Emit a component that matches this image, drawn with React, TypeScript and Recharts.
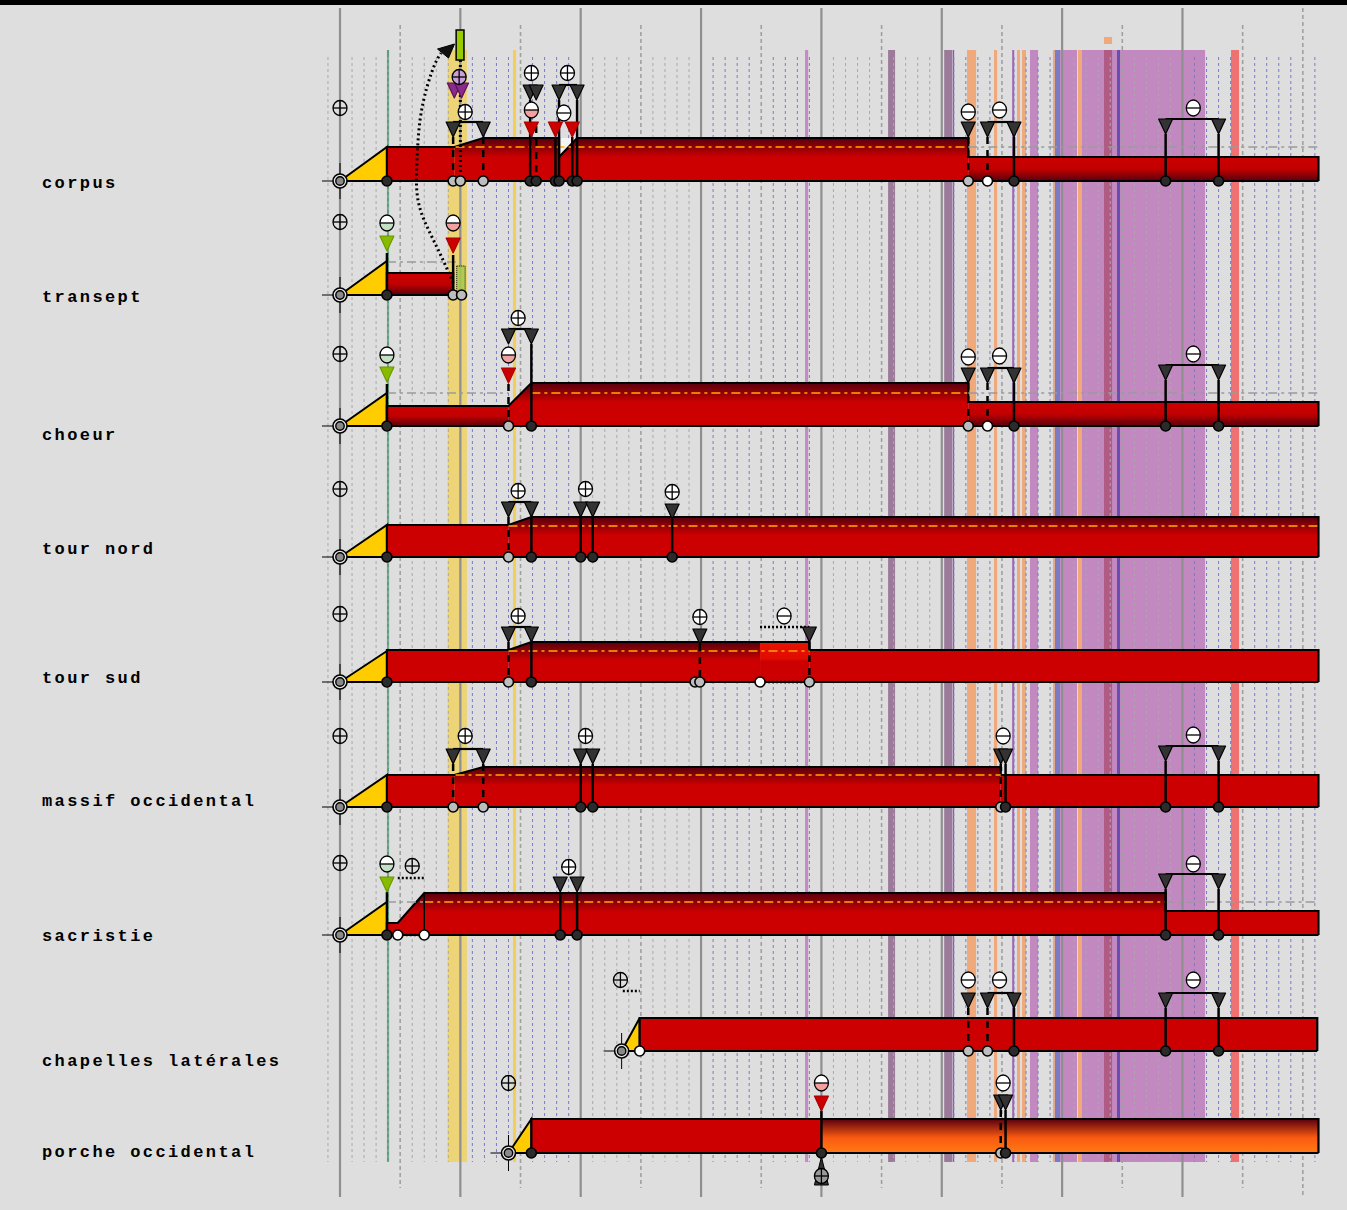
import React from "react";
import {
  ComposedChart,
  XAxis,
  YAxis,
  Area,
  Line,
  Scatter,
  ReferenceLine,
  ReferenceArea,
} from "recharts";

const W = 1347;
const H = 1210;
const X_DOMAIN: [number, number] = [817.5, 1936.7];
const Y_DOMAIN: [number, number] = [0, 1210];

// ---------- rows ----------
const rowNames = [
  "corpus",
  "transept",
  "choeur",
  "tour nord",
  "tour sud",
  "massif occidental",
  "sacristie",
  "chapelles latérales",
  "porche occidental",
];
const rowBase = [181, 295, 426, 557, 682, 807, 935, 1051, 1153];
const labelDy = [7, 7, 14, -3, 1, -1, 6, 15, 4];
const labelYear = 852.4;
const rowStart = [1100, 1100, 1100, 1100, 1100, 1100, 1100, 1334, 1240];

// yellow ramps: [row, from, to, height]
const ramps: [number, number, number, number][] = [
  [0, 1100, 1139, 34],
  [1, 1100, 1139, 34],
  [2, 1100, 1139, 33],
  [3, 1100, 1139, 32],
  [4, 1100, 1139, 31],
  [5, 1100, 1139, 32],
  [6, 1100, 1139, 33],
  [7, 1334, 1349, 33],
  [8, 1240, 1259, 34],
];

type Seg = [string, [number, number][]];
const corpusBars: Seg[] = [
  ["red", [[1139, 0], [1139, 34], [1195, 34], [1195, 0]]],
  ["topDark", [[1195, 0], [1195, 34], [1219, 43], [1282, 43], [1282, 24], [1297, 43], [1622, 43], [1622, 0]]],
  ["bottomDark", [[1622, 0], [1622, 24], [1913, 24], [1913, 0]]],
];
const transeptBars: Seg[] = [["bottomDark", [[1139, 0], [1139, 22], [1194, 22], [1194, 0]]]];
const choeurBars: Seg[] = [
  ["bottomDark", [[1139, 0], [1139, 20], [1240, 20], [1240, 0]]],
  ["topDark", [[1240, 0], [1240, 20], [1259, 43], [1622, 43], [1622, 0]]],
  ["bottomDark", [[1622, 0], [1622, 24], [1913, 24], [1913, 0]]],
];
const tourNordBars: Seg[] = [
  ["red", [[1139, 0], [1139, 32], [1240, 32], [1240, 0]]],
  ["topDark", [[1240, 0], [1240, 32], [1259, 40], [1913, 40], [1913, 0]]],
];
const tourSudBars: Seg[] = [
  ["red", [[1139, 0], [1139, 32], [1240, 32], [1240, 0]]],
  ["topDark", [[1240, 0], [1240, 32], [1259, 40], [1449, 40], [1449, 0]]],
  ["bright", [[1449, 0], [1449, 40], [1490, 40], [1490, 0]]],
  ["red", [[1490, 0], [1490, 32], [1913, 32], [1913, 0]]],
];
const massifBars: Seg[] = [
  ["red", [[1139, 0], [1139, 32], [1195, 32], [1195, 0]]],
  ["topDark", [[1195, 0], [1195, 32], [1219, 40], [1649, 40], [1649, 0]]],
  ["red", [[1649, 0], [1649, 32], [1913, 32], [1913, 0]]],
];
const sacristieBars: Seg[] = [
  ["topDark", [[1139, 0], [1139, 12], [1148, 12], [1170, 42], [1786, 42], [1786, 0]]],
  ["red", [[1786, 0], [1786, 24], [1913, 24], [1913, 0]]],
];
const chapellesBars: Seg[] = [["red", [[1349, 0], [1349, 33], [1912, 33], [1912, 0]]]];
const porcheBars: Seg[] = [
  ["red", [[1259, 0], [1259, 34], [1500, 34], [1500, 0]]],
  ["orange", [[1500, 0], [1500, 34], [1913, 34], [1913, 0]]],
];
const rowBars = [corpusBars, transeptBars, choeurBars, tourNordBars, tourSudBars, massifBars, sacristieBars, chapellesBars, porcheBars];
// pale notch in the corpus: [row, from, to, low height, high height]
const notches: [number, number, number, number, number][] = [[0, 1282, 1297, 24, 43]];

// ---------- markers ----------
// [row, year, height above base, variant]
const plusMarks: [number, number, number, string][] = [
  [0, 1100, 73, "n"], [0, 1204, 69, "w"], [0, 1259, 108, "w"], [0, 1289, 108, "w"], [0, 1199, 104, "v"],
  [1, 1100, 73, "n"],
  [2, 1100, 72, "n"], [2, 1248, 108, "w"],
  [3, 1100, 68, "n"], [3, 1248, 66, "w"], [3, 1304, 68, "w"], [3, 1376, 65, "w"],
  [4, 1100, 68, "n"], [4, 1248, 66, "w"], [4, 1399, 65, "w"],
  [5, 1100, 71, "n"], [5, 1204, 71, "w"], [5, 1304, 71, "w"],
  [6, 1100, 72, "n"], [6, 1160, 69, "n"], [6, 1290, 68, "w"],
  [7, 1333, 71, "n"],
  [8, 1240, 70, "n"], [8, 1500, -23, "g"],
];
const minusMarks: [number, number, number, string][] = [
  [0, 1259, 71, "p"], [0, 1286, 68, "w"], [0, 1622, 69, "w"], [0, 1648, 71, "w"], [0, 1809, 73, "w"],
  [1, 1139, 72, "g"], [1, 1194, 72, "p"],
  [2, 1139, 71, "g"], [2, 1240, 71, "p"], [2, 1622, 69, "w"], [2, 1648, 70, "w"], [2, 1809, 72, "w"],
  [4, 1469, 66, "w"],
  [5, 1651, 71, "w"], [5, 1809, 72, "w"],
  [6, 1139, 71, "g"], [6, 1809, 71, "w"],
  [7, 1622, 71, "w"], [7, 1648, 71, "w"], [7, 1809, 71, "w"],
  [8, 1500, 70, "p"], [8, 1651, 70, "w"],
];
// triangle: [row, year, height of top, colour]
const triMarks: [number, number, number, string][] = [
  [0, 1194, 59, "k"], [0, 1219, 59, "k"], [0, 1258, 96, "k"], [0, 1263, 96, "k"], [0, 1282, 96, "k"], [0, 1297, 96, "k"],
  [0, 1259, 59, "r"], [0, 1279, 59, "r"], [0, 1293, 59, "r"], [0, 1195, 98, "v"], [0, 1201, 98, "v"],
  [0, 1622, 59, "k"], [0, 1638, 59, "k"], [0, 1660, 59, "k"], [0, 1786, 62, "k"], [0, 1830, 62, "k"],
  [1, 1139, 59, "g"], [1, 1194, 57, "r"],
  [2, 1139, 59, "g"], [2, 1240, 58, "r"], [2, 1240, 97, "k"], [2, 1259, 97, "k"], [2, 1622, 58, "k"], [2, 1638, 58, "k"], [2, 1660, 58, "k"], [2, 1786, 61, "k"], [2, 1830, 61, "k"],
  [3, 1240, 55, "k"], [3, 1259, 55, "k"], [3, 1300, 55, "k"], [3, 1310, 55, "k"], [3, 1376, 53, "k"],
  [4, 1240, 55, "k"], [4, 1259, 55, "k"], [4, 1399, 53, "k"], [4, 1490, 55, "k"],
  [5, 1194, 58, "k"], [5, 1219, 58, "k"], [5, 1300, 58, "k"], [5, 1310, 58, "k"], [5, 1649, 58, "k"], [5, 1653, 58, "k"], [5, 1786, 61, "k"], [5, 1830, 61, "k"],
  [6, 1139, 58, "g"], [6, 1283, 58, "k"], [6, 1297, 58, "k"], [6, 1786, 61, "k"], [6, 1830, 61, "k"],
  [7, 1622, 58, "k"], [7, 1638, 58, "k"], [7, 1660, 58, "k"], [7, 1786, 58, "k"], [7, 1830, 58, "k"],
  [8, 1500, 57, "r"], [8, 1649, 58, "k"], [8, 1653, 58, "k"],
];
// base dots: [row, year, variant]
const dotMarks: [number, number, string][] = [
  [0, 1139, "d"], [0, 1194, "l"], [0, 1200, "l"], [0, 1219, "l"], [0, 1258, "d"], [0, 1263, "d"], [0, 1279, "d"], [0, 1282, "d"], [0, 1293, "d"], [0, 1297, "d"], [0, 1622, "l"], [0, 1638, "w"], [0, 1660, "d"], [0, 1786, "d"], [0, 1830, "d"],
  [1, 1139, "d"], [1, 1194, "l"], [1, 1201, "l"],
  [2, 1139, "d"], [2, 1240, "l"], [2, 1259, "d"], [2, 1622, "l"], [2, 1638, "w"], [2, 1660, "d"], [2, 1786, "d"], [2, 1830, "d"],
  [3, 1139, "d"], [3, 1240, "l"], [3, 1259, "d"], [3, 1300, "d"], [3, 1310, "d"], [3, 1376, "d"],
  [4, 1139, "d"], [4, 1240, "l"], [4, 1259, "d"], [4, 1395, "l"], [4, 1399, "l"], [4, 1449, "w"], [4, 1490, "l"],
  [5, 1139, "d"], [5, 1194, "l"], [5, 1219, "l"], [5, 1300, "d"], [5, 1310, "d"], [5, 1649, "l"], [5, 1653, "d"], [5, 1786, "d"], [5, 1830, "d"],
  [6, 1139, "d"], [6, 1148, "w"], [6, 1170, "w"], [6, 1283, "d"], [6, 1297, "d"], [6, 1786, "d"], [6, 1830, "d"],
  [7, 1349, "w"], [7, 1622, "l"], [7, 1638, "l"], [7, 1660, "d"], [7, 1786, "d"], [7, 1830, "d"],
  [8, 1259, "d"], [8, 1500, "d"], [8, 1649, "l"], [8, 1653, "d"],
];
// stems: [row, year, height of top, style s=solid d=dashed o=dotted t=thin]
const stems: [number, number, number, string][] = [
  [0, 1194, 44, "d"], [0, 1219, 44, "d"], [0, 1200, 121, "o"], [0, 1258, 81, "s"], [0, 1263, 55, "d"], [0, 1279, 44, "s"], [0, 1282, 81, "s"], [0, 1293, 44, "s"], [0, 1297, 81, "s"],
  [0, 1622, 44, "d"], [0, 1638, 44, "d"], [0, 1660, 44, "s"], [0, 1786, 47, "s"], [0, 1830, 47, "s"],
  [1, 1139, 42, "s"], [1, 1194, 40, "s"],
  [2, 1139, 42, "s"], [2, 1240, 42, "d"], [2, 1259, 82, "s"], [2, 1622, 43, "d"], [2, 1638, 43, "d"], [2, 1660, 43, "s"], [2, 1786, 46, "s"], [2, 1830, 46, "s"],
  [3, 1240, 40, "d"], [3, 1259, 40, "s"], [3, 1300, 40, "s"], [3, 1310, 40, "s"], [3, 1376, 38, "s"],
  [4, 1240, 40, "d"], [4, 1259, 40, "s"], [4, 1399, 38, "d"], [4, 1490, 40, "d"],
  [5, 1194, 43, "d"], [5, 1219, 43, "d"], [5, 1300, 43, "s"], [5, 1310, 43, "s"], [5, 1649, 43, "d"], [5, 1653, 43, "s"], [5, 1786, 46, "s"], [5, 1830, 46, "s"],
  [6, 1139, 43, "s"], [6, 1170, 42, "t"], [6, 1283, 43, "s"], [6, 1297, 43, "s"], [6, 1786, 46, "s"], [6, 1830, 46, "s"],
  [7, 1622, 43, "d"], [7, 1638, 43, "d"], [7, 1660, 43, "s"], [7, 1786, 43, "s"], [7, 1830, 43, "s"],
  [8, 1500, 42, "s"], [8, 1649, 43, "d"], [8, 1653, 43, "s"],
];
// horizontal links: [row, from, to, height, style]
const links: [number, number, number, number, string][] = [
  [0, 1194, 1219, 59, "s"], [0, 1282, 1297, 96, "s"], [0, 1638, 1660, 59, "s"], [0, 1786, 1830, 62, "s"],
  [2, 1240, 1259, 97, "s"], [2, 1638, 1660, 58, "s"], [2, 1786, 1830, 61, "s"],
  [3, 1240, 1259, 55, "s"],
  [4, 1240, 1259, 55, "s"], [4, 1449, 1490, 55, "o"], [4, 1449, 1490, 0, "o"],
  [5, 1194, 1219, 58, "s"], [5, 1786, 1830, 61, "s"],
  [6, 1148, 1170, 57, "o"], [6, 1148, 1170, 0, "o"], [6, 1786, 1830, 61, "s"],
  [7, 1335, 1349, 60, "o"], [7, 1638, 1660, 58, "s"], [7, 1786, 1830, 58, "s"],
];
// dash-dot reference levels: [row, from, to, height, colour]
const levels: [number, number, number, number, string][] = [
  [0, 1196, 1622, 34, "y"], [0, 1622, 1913, 34, "g"],
  [1, 1139, 1201, 33, "g"],
  [2, 1139, 1240, 33, "g"], [2, 1259, 1622, 33, "y"], [2, 1622, 1913, 33, "g"],
  [3, 1240, 1913, 31, "y"],
  [4, 1240, 1490, 31, "y"],
  [5, 1196, 1649, 32, "y"],
  [6, 1139, 1170, 33, "g"], [6, 1170, 1786, 33, "y"], [6, 1786, 1913, 33, "g"],
];
// flags: [row, from, to, bottom height, top height, style]
const flags: [number, number, number, number, number, string][] = [
  [0, 1196.5, 1203, 121, 151, "solid"],
  [1, 1197, 1204, 0, 29, "dotted"],
];
// dotted arc (absolute)
const arcPoints = [
  { x: 1194, y: 283 }, { x: 1185.6, y: 260 }, { x: 1174.8, y: 233 }, { x: 1164.8, y: 200 },
  { x: 1164, y: 160 }, { x: 1166.5, y: 120 }, { x: 1172.3, y: 87 }, { x: 1178.9, y: 64 }, { x: 1184, y: 53 },
];
const arrowHead = { x: 1188.5, y: 47 };

// ---------- grid & bands ----------
const majorYears = [1100, 1200, 1300, 1400, 1500, 1600, 1700, 1800];
const majorDashed = [1900];
const halfYears = [1150, 1250, 1350, 1450, 1550, 1650, 1750, 1850];
const greyDecades = [1090, 1110, 1120, 1130, 1140, 1160, 1170, 1180, 1190, 1310, 1320, 1330, 1340, 1360, 1370, 1380, 1390, 1510, 1520, 1530, 1540, 1560, 1570, 1580, 1590, 1710, 1720, 1730, 1740, 1760, 1770, 1780, 1790];
const blueDecades = [1210, 1220, 1230, 1240, 1260, 1270, 1280, 1290, 1410, 1420, 1430, 1440, 1460, 1470, 1480, 1490, 1610, 1620, 1630, 1640, 1660, 1670, 1680, 1690, 1810, 1820, 1830, 1840, 1860, 1870, 1880, 1890, 1910];
const bands: [number, number, string][] = [
  [1139, 1140.8, "#5c9f7c"],
  [1189.5, 1205.5, "#ecd477"],
  [1243.7, 1246.3, "#f3cf58"],
  [1486.4, 1489, "#c48ac6"],
  [1555.4, 1561.2, "#9b7b99"],
  [1602, 1608.5, "#9b7b99"],
  [1609, 1610.3, "#8a5aa8"],
  [1621, 1628.5, "#f0a97a"],
  [1643.4, 1646, "#f0a97a"],
  [1658.5, 1660.2, "#a066b6"],
  [1662.5, 1665, "#f0a97a"],
  [1666.7, 1670, "#f0a97a"],
  [1673.3, 1680, "#c189c0"],
  [1692.4, 1694, "#f0a97a"],
  [1694, 1698.3, "#7b7bc4"],
  [1698.3, 1712.4, "#c189c0"],
  [1713.2, 1716.5, "#f0a97a"],
  [1716.5, 1818.8, "#c189c0"],
  [1734.8, 1741.5, "#b05b84"],
  [1745.6, 1748.1, "#6a4db2"],
  [1840.3, 1847, "#ee7272"],
];
const topTag: [number, number, string] = [1734.8, 1741.5, "#f0a97a"];

// ---------- styles ----------
const TONE: Record<string, string> = {
  red: "#cc0000",
  topDark: "url(#gTopDark)",
  bottomDark: "url(#gBottomDark)",
  bright: "url(#gBright)",
  orange: "url(#gOrange)",
};
const TRI_FILL: Record<string, string> = { k: "#333333", r: "#cc0000", g: "#88bb00", v: "#8a2a8a" };
const TRI_STROKE: Record<string, string> = { k: "#000000", r: "#aa0000", g: "#6a9a00", v: "#5a105a" };
const DOT_FILL: Record<string, string> = { d: "#2b2b2b", l: "#bdbdbd", w: "#ffffff" };
const PLUS_FILL: Record<string, string> = { n: "none", w: "#ffffff", v: "#c8a0d8", g: "#999999" };
const MINUS_TINT: Record<string, string> = { w: "#ffffff", p: "#f2a0a0", g: "#c4e0c4" };

const toArea = (row: number, pts: [number, number][]) =>
  pts.map(([x, h]) => ({ x, r: [rowBase[row], rowBase[row] - h] }));

function outlineOf(segs: Seg[]): [number, number][] {
  const out: [number, number][] = [];
  segs.forEach((s, i) => {
    let p = s[1];
    if (i > 0) p = p.slice(1);
    if (i < segs.length - 1) p = p.slice(0, -1);
    out.push(...p);
  });
  return out;
}

function MarkShape(props: any) {
  const { cx, cy } = props;
  const d = props.payload ?? props;
  if (cx == null || cy == null) return <g />;
  switch (d.kind) {
    case "dot":
      return <circle cx={cx} cy={cy} r={5} fill={DOT_FILL[d.v]} stroke="#000" strokeWidth={1.6} />;
    case "tri":
      return (
        <polygon
          points={`${cx - 7},${cy} ${cx + 7},${cy} ${cx},${cy + 15}`}
          fill={TRI_FILL[d.v]}
          stroke={TRI_STROKE[d.v]}
          strokeWidth={1.2}
          strokeLinejoin="round"
        />
      );
    case "plus":
      return (
        <g>
          <ellipse cx={cx} cy={cy} rx={7} ry={7.5} fill={PLUS_FILL[d.v]} stroke="#000" strokeWidth={1.3} />
          <line x1={cx - 7} x2={cx + 7} y1={cy} y2={cy} stroke="#000" strokeWidth={1.3} />
          <line x1={cx} x2={cx} y1={cy - 7.5} y2={cy + 7.5} stroke="#000" strokeWidth={1.3} />
        </g>
      );
    case "minus":
      return (
        <g>
          <ellipse cx={cx} cy={cy} rx={7} ry={8} fill="#ffffff" />
          <path d={`M${cx - 7},${cy} A7,8 0 0 0 ${cx + 7},${cy} Z`} fill={MINUS_TINT[d.v]} />
          <ellipse cx={cx} cy={cy} rx={7} ry={8} fill="none" stroke="#000" strokeWidth={1.3} />
          <line x1={cx - 7} x2={cx + 7} y1={cy} y2={cy} stroke="#000" strokeWidth={1.3} />
        </g>
      );
    case "start":
      return (
        <g>
          <line x1={cx} x2={cx} y1={cy - 18} y2={cy + 18} stroke="#000" strokeWidth={1} />
          <line x1={cx - 18} x2={cx} y1={cy} y2={cy} stroke="#000" strokeWidth={1} />
          <circle cx={cx} cy={cy} r={7} fill="#e6e6e6" stroke="#000" strokeWidth={1.6} />
          <circle cx={cx} cy={cy} r={4.2} fill="#8a8a8a" stroke="#000" strokeWidth={1.4} />
        </g>
      );
    case "upTri":
      return (
        <g>
          <polygon points={`${cx},${cy} ${cx - 7},${cy + 28} ${cx + 7},${cy + 28}`} fill="#333" stroke="#000" />
        </g>
      );
    case "arrow":
      return (
        <polygon
          points={`${cx - 9},${cy + 2} ${cx + 8},${cy - 3} ${cx + 2},${cy + 11}`}
          fill="#111"
          stroke="#000"
          strokeWidth={1}
        />
      );
    case "label":
      return (
        <text
          x={cx}
          y={cy}
          fontFamily="'Liberation Mono', monospace"
          fontWeight="bold"
          fontSize={17}
          letterSpacing={2.4}
          fill="#000"
        >
          {d.text}
        </text>
      );
    default:
      return <g />;
  }
}

const dotData = dotMarks.map(([r, x, v]) => ({ x, y: rowBase[r], kind: "dot", v }));
const triData = triMarks.map(([r, x, h, v]) => ({ x, y: rowBase[r] - h, kind: "tri", v }));
const circleData = [
  ...plusMarks.map(([r, x, h, v]) => ({ x, y: rowBase[r] - h, kind: "plus", v })),
  ...minusMarks.map(([r, x, h, v]) => ({ x, y: rowBase[r] - h, kind: "minus", v })),
];
const startData = rowStart.map((x, r) => ({ x, y: rowBase[r], kind: "start" }));
const labelData = rowNames.map((t, r) => ({ x: labelYear, y: rowBase[r] + labelDy[r], kind: "label", text: t }));
const extraData = [
  { ...arrowHead, kind: "arrow" },
  { x: 1500, y: rowBase[8] + 4, kind: "upTri" },
];

export default function App() {
  const Z = (n: number) => ({ zIndex: n } as any);
  return (
    <div style={{ width: W, height: H, background: "#dedede", position: "relative", overflow: "hidden" }}>
      <style>{"body{margin:0}"}</style>
      <div style={{ position: "absolute", left: 0, top: 0, width: W, height: 5, background: "#000" }} />
      <ComposedChart
        width={W}
        height={H}
        margin={{ top: 0, right: 0, bottom: 0, left: 0 }}
        style={{ position: "absolute", left: 0, top: 0 }}
      >
        <defs>
          <linearGradient id="gTopDark" x1="0" y1="0" x2="0" y2="1">
            <stop offset="0" stopColor="#58000e" />
            <stop offset="0.45" stopColor="#cc0000" />
            <stop offset="1" stopColor="#cc0000" />
          </linearGradient>
          <linearGradient id="gBottomDark" x1="0" y1="0" x2="0" y2="1">
            <stop offset="0" stopColor="#cc0000" />
            <stop offset="0.5" stopColor="#c20000" />
            <stop offset="1" stopColor="#58000e" />
          </linearGradient>
          <linearGradient id="gBright" x1="0" y1="0" x2="0" y2="1">
            <stop offset="0" stopColor="#e81200" />
            <stop offset="0.42" stopColor="#e00c00" />
            <stop offset="0.48" stopColor="#cc0000" />
            <stop offset="1" stopColor="#cc0000" />
          </linearGradient>
          <linearGradient id="gOrange" x1="0" y1="0" x2="0" y2="1">
            <stop offset="0" stopColor="#58000e" />
            <stop offset="0.55" stopColor="#fa5a10" />
            <stop offset="1" stopColor="#ff7a14" />
          </linearGradient>
        </defs>
        <XAxis type="number" dataKey="x" domain={X_DOMAIN} hide allowDataOverflow />
        <YAxis type="number" dataKey="y" domain={Y_DOMAIN} reversed hide allowDataOverflow />

        {bands.map(([a, b, c], i) => (
          <ReferenceArea key={`band${i}`} x1={a} x2={b} y1={50} y2={1162} fill={c} fillOpacity={1} stroke="none" ifOverflow="visible" {...Z(10)} />
        ))}
        <ReferenceArea x1={topTag[0]} x2={topTag[1]} y1={37} y2={44} fill={topTag[2]} fillOpacity={1} stroke="none" {...Z(10)} />

        {greyDecades.map((x) => (
          <ReferenceLine key={`gd${x}`} segment={[{ x, y: 57 }, { x, y: 1162 }]} stroke="#a9a9a9" strokeWidth={1} strokeDasharray="3 3" ifOverflow="visible" {...Z(20)} />
        ))}
        {blueDecades.map((x) => (
          <ReferenceLine key={`bd${x}`} segment={[{ x, y: 57 }, { x, y: 1162 }]} stroke="#7a7ac8" strokeWidth={1} strokeDasharray="3 3" ifOverflow="visible" {...Z(20)} />
        ))}
        {halfYears.map((x) => (
          <ReferenceLine key={`hy${x}`} segment={[{ x, y: 25 }, { x, y: 1188 }]} stroke="#a0a0a0" strokeWidth={1.6} strokeDasharray="4 3" ifOverflow="visible" {...Z(20)} />
        ))}
        {majorDashed.map((x) => (
          <ReferenceLine key={`md${x}`} segment={[{ x, y: 8 }, { x, y: 1197 }]} stroke="#a0a0a0" strokeWidth={1.6} strokeDasharray="4 3" ifOverflow="visible" {...Z(20)} />
        ))}
        {majorYears.map((x) => (
          <ReferenceLine key={`my${x}`} segment={[{ x, y: 8 }, { x, y: 1197 }]} stroke="#8f8f8f" strokeWidth={2.2} ifOverflow="visible" {...Z(20)} />
        ))}

        {ramps.map(([r, a, b, h]) => (
          <Area
            key={`ramp${r}`}
            data={toArea(r, [[a, 0], [b, h], [b, 0]])}
            dataKey="r"
            type="linear"
            fill="#ffcc00"
            fillOpacity={1}
            stroke="#000"
            strokeWidth={2}
            isAnimationActive={false}
            dot={false}
            activeDot={false}
            {...Z(30)}
          />
        ))}
        {rowBars.flatMap((segs, r) =>
          segs.map(([tone, pts], i) => (
            <Area
              key={`seg${r}-${i}`}
              data={toArea(r, pts)}
              dataKey="r"
              type="linear"
              fill={TONE[tone]}
              fillOpacity={1}
              stroke="none"
              isAnimationActive={false}
              dot={false}
              activeDot={false}
              {...Z(30)}
            />
          ))
        )}
        {notches.map(([r, a, b, lo, hi], i) => (
          <Area
            key={`notch${i}`}
            data={[
              { x: a, r: [rowBase[r] - lo, rowBase[r] - hi] },
              { x: b, r: [rowBase[r] - hi, rowBase[r] - hi] },
            ]}
            dataKey="r"
            type="linear"
            fill="#f4f4f4"
            fillOpacity={1}
            stroke="none"
            isAnimationActive={false}
            dot={false}
            activeDot={false}
            {...Z(32)}
          />
        ))}
        {rowBars.map((segs, r) => (
          <Area
            key={`outline${r}`}
            data={toArea(r, outlineOf(segs))}
            dataKey="r"
            type="linear"
            fill="none"
            stroke="#000"
            strokeWidth={2.2}
            isAnimationActive={false}
            dot={false}
            activeDot={false}
            {...Z(35)}
          />
        ))}

        {levels.map(([r, a, b, h, c], i) => (
          <ReferenceLine
            key={`lv${i}`}
            segment={[{ x: a, y: rowBase[r] - h }, { x: b, y: rowBase[r] - h }]}
            stroke={c === "y" ? "#ffaa00" : "#9a9a9a"}
            strokeWidth={1.5}
            strokeDasharray="9 4 3 4"
            ifOverflow="visible"
            {...Z(40)}
          />
        ))}

        {flags.map(([r, a, b, h1, h2, s], i) => (
          <ReferenceArea
            key={`flag${i}`}
            x1={a}
            x2={b}
            y1={rowBase[r] - h2}
            y2={rowBase[r] - h1}
            fill={s === "solid" ? "#99cc00" : "#a8c84a"}
            fillOpacity={s === "solid" ? 1 : 0.85}
            stroke="#000"
            strokeWidth={s === "solid" ? 1.5 : 1}
            strokeDasharray={s === "solid" ? undefined : "1 1"}
            ifOverflow="visible"
            {...Z(45)}
          />
        ))}

        {stems.map(([r, x, h, s], i) => (
          <ReferenceLine
            key={`st${i}`}
            segment={[{ x, y: rowBase[r] - h }, { x, y: rowBase[r] }]}
            stroke="#000"
            strokeWidth={s === "o" ? 3 : s === "t" ? 1.5 : 2.5}
            strokeDasharray={s === "d" ? "7 6" : s === "o" ? "2 3" : undefined}
            ifOverflow="visible"
            {...Z(50)}
          />
        ))}
        {links.map(([r, a, b, h, s], i) => (
          <ReferenceLine
            key={`ln${i}`}
            segment={[{ x: a, y: rowBase[r] - h }, { x: b, y: rowBase[r] - h }]}
            stroke="#000"
            strokeWidth={s === "o" ? 2.5 : 2.2}
            strokeDasharray={s === "o" ? "2 2" : undefined}
            ifOverflow="visible"
            {...Z(50)}
          />
        ))}

        <Line
          data={arcPoints}
          dataKey="y"
          type="natural"
          stroke="#000"
          strokeWidth={3}
          strokeDasharray="2 3"
          dot={false}
          activeDot={false}
          isAnimationActive={false}
          {...Z(55)}
        />

        <Scatter data={extraData} dataKey="y" shape={MarkShape} isAnimationActive={false} {...Z(58)} />
        <Scatter data={dotData} dataKey="y" shape={MarkShape} isAnimationActive={false} {...Z(60)} />
        <Scatter data={triData} dataKey="y" shape={MarkShape} isAnimationActive={false} {...Z(70)} />
        <Scatter data={circleData} dataKey="y" shape={MarkShape} isAnimationActive={false} {...Z(80)} />
        <Scatter data={startData} dataKey="y" shape={MarkShape} isAnimationActive={false} {...Z(90)} />
        <Scatter data={labelData} dataKey="y" shape={MarkShape} isAnimationActive={false} {...Z(100)} />
      </ComposedChart>
    </div>
  );
}
